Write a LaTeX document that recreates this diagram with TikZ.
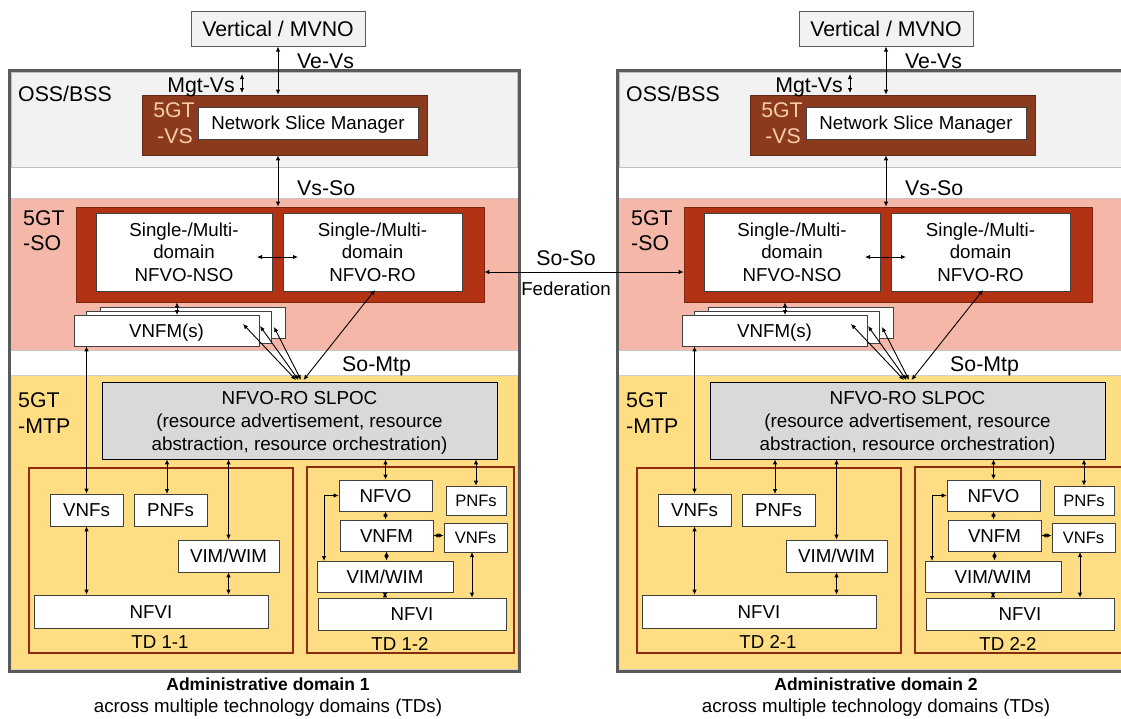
\documentclass[tikz,border=0pt]{standalone}
\usepackage{fontspec}
\setmainfont{Liberation Sans}
\usetikzlibrary{arrows.meta,calc}
\definecolor{ossfill}{HTML}{F2F2F2}
\definecolor{sofill}{HTML}{F5B7A7}
\definecolor{mtpfill}{HTML}{FFDD82}
\definecolor{vsbrown}{HTML}{8B3A1E}
\definecolor{sored}{HTML}{B23314}
\definecolor{vstext}{HTML}{F8CBAD}
\definecolor{tdred}{HTML}{8E2A10}
\definecolor{slpocfill}{HTML}{D9D9D9}
\definecolor{outergray}{HTML}{5A5A5A}
\newcommand\fsXL{\fontsize{21.3}{26}\selectfont}
\newcommand\fsL{\fontsize{18.7}{22.5}\selectfont}
\newcommand\fsSL{\fontsize{18.8}{23}\selectfont}
\newcommand\fsM{\fontsize{16.6}{20}\selectfont}
\newcommand\fsAdm{\fontsize{17.5}{21}\selectfont\bfseries}
\tikzset{
  sz/.style 2 args={minimum width=#1pt, minimum height=#2pt, inner sep=0pt},
  dbl/.style={<->, >={Latex[length=5pt,width=4.5pt]}, line width=0.9pt, black},
  mbox/.style={draw=black!75, fill=white, line width=0.8pt, inner sep=0pt, font=\fsL},
  wbox/.style={mbox, text height=13.4pt, text depth=0pt},
  wboxs/.style={mbox, font=\fsM, text height=11.9pt, text depth=0pt},
  lbl/.style={inner sep=0pt, font=\fsXL},
}
\newcommand\admdomain[2]{%
\begin{scope}[xshift=#2pt]
  % bands
  \node[draw=outergray, line width=3pt, fill=white, sz={510}{601}] (d#1-out) at (264,370.5) {};
  \node[draw=black!25, line width=0.8pt, fill=ossfill, sz={506}{95}] (d#1-oss) at (264,119.5) {};
  \node[draw=black!22, line width=0.6pt, fill=sofill, sz={506}{152}] (d#1-sob) at (264,274) {};
  \node[draw=black!18, line width=0.6pt, fill=mtpfill, sz={506}{294}] (d#1-mtp) at (264,522) {};
  \node[lbl, anchor=base west] (d#1-osslbl) at (18,101) {OSS/BSS};
  % vertical
  \node[draw=outergray, line width=1pt, fill=ossfill, sz={174}{35}, font=\fsXL, text height=15.2pt, text depth=0pt] (d#1-vert) at (278,28.5) {Vertical / MVNO};
  % VS
  \node[draw=vsbrown!70!black, line width=0.8pt, fill=vsbrown, sz={285}{60}] (d#1-vs) at (284.5,125) {};
  \node[lbl, text=vstext, anchor=base] (d#1-vs5) at (174,117) {5GT};
  \node[lbl, text=vstext, anchor=base] (d#1-vs6) at (175,143) {-VS};
  \node[wbox, sz={220}{32}] (d#1-nsm) at (308,123) {Network Slice Manager};
  \draw[dbl] (d#1-vert.south) -- (d#1-vert.south |- d#1-vs.north);
  \node[lbl, anchor=base west] (d#1-vevs) at (297,68) {Ve-Vs};
  \node[lbl, anchor=base east] (d#1-mgt) at (235,92) {Mgt-Vs};
  \coordinate (d#1-m1) at (242,74);
  \coordinate (d#1-m2) at (242,93);
  \draw[dbl] (d#1-m1) -- (d#1-m2);
  % SO
  \node[draw=sored!70!black, line width=0.6pt, fill=sored, sz={408}{95}] (d#1-so) at (280,254.5) {};
  \draw[dbl] (d#1-vs.south -| d#1-vert.south) -- (d#1-so.north -| d#1-vert.south);
  \node[lbl, anchor=base west] (d#1-vsso) at (297,195) {Vs-So};
  \node[lbl, anchor=base west] (d#1-so5) at (23,225) {5GT};
  \node[lbl, anchor=base west] (d#1-so6) at (23,250) {-SO};
  \node[mbox, align=center, sz={176}{78}] (d#1-nso) at (184,252) {Single-/Multi-\\domain\\NFVO-NSO};
  \node[mbox, align=center, sz={179}{78}] (d#1-ro) at (372.5,252) {Single-/Multi-\\domain\\NFVO-RO};
  \coordinate (d#1-h1) at (257,257);
  \coordinate (d#1-h2) at (298,257);
  \draw[dbl] (d#1-h1) -- (d#1-h2);
  % VNFM stack
  \node[wbox, sz={185}{31}] (d#1-vnfmc) at (192.5,322.5) {};
  \node[wbox, sz={185}{32}] (d#1-vnfmb) at (178.5,327) {};
  \node[wbox, sz={185}{31}] (d#1-vnfma) at (166.5,330.5) {VNFM(s)};
  \coordinate (d#1-c1) at (177,315);
  \draw[dbl] (d#1-c1 |- d#1-so.south) -- (d#1-c1);
  % MTP
  \node[draw=black, line width=0.8pt, fill=slpocfill, align=center, sz={395}{77}, font=\fsSL, text depth=0pt] (d#1-slpoc) at (299.5,420.5) {NFVO-RO SLPOC\\(resource advertisement, resource\\abstraction, resource orchestration)};
  \node[lbl, anchor=base west] (d#1-somtp) at (342,371) {So-Mtp};
  \node[lbl, anchor=base west] (d#1-mtp5) at (18,407) {5GT};
  \node[lbl, anchor=base west] (d#1-mtp6) at (18,433) {-MTP};
  \coordinate (d#1-s1) at (296,380);
  \coordinate (d#1-s2) at (298.5,380);
  \coordinate (d#1-s3) at (301,380);
  \coordinate (d#1-s4) at (303.5,380);
  \coordinate (d#1-t1) at (243,324);
  \coordinate (d#1-t2) at (260,326);
  \coordinate (d#1-t3) at (274,327);
  \coordinate (d#1-t4) at (375,290);
  \draw[dbl] (d#1-s1) -- (d#1-t1);
  \draw[dbl] (d#1-s2) -- (d#1-t2);
  \draw[dbl] (d#1-s3) -- (d#1-t3);
  \draw[dbl] (d#1-s4) -- (d#1-t4);
  % TD boxes
  \node[draw=tdred, line width=2.5pt, sz={264}{185}] (d#1-tda) at (161,560.5) {};
  \node[draw=tdred, line width=2.5pt, sz={207}{186}] (d#1-tdb) at (410.5,560) {};
  \node[anchor=base, font=\fsL, inner sep=0pt] (d#1-tdal) at (160,648) {TD #1-1};
  \node[anchor=base, font=\fsL, inner sep=0pt] (d#1-tdbl) at (400,650) {TD #1-2};
  % TD x-1
  \node[wbox, sz={73}{32}] (d#1-vnfs) at (86.5,510) {VNFs};
  \node[wbox, sz={73}{32}] (d#1-pnfs) at (170.5,510) {PNFs};
  \node[wbox, sz={101}{32}] (d#1-vim) at (228.5,556) {VIM/WIM};
  \node[wbox, sz={234}{33}] (d#1-nfvi) at (151,611.5) {NFVI};
  \draw[dbl] (d#1-vnfs.north |- d#1-vnfma.south) -- (d#1-vnfs.north);
  \coordinate (d#1-p1) at (167,494);
  \draw[dbl] (d#1-p1 |- d#1-slpoc.south) -- (d#1-p1);
  \draw[dbl] (d#1-slpoc.south -| d#1-vim.north) -- (d#1-vim.north);
  \draw[dbl] (d#1-vnfs.south) -- (d#1-vnfs.south |- d#1-nfvi.north);
  \draw[dbl] (d#1-vim.south) -- (d#1-vim.south |- d#1-nfvi.north);
  % TD x-2
  \node[wbox, sz={93}{31}] (d#1-nfvo) at (385.5,495.5) {NFVO};
  \node[wboxs, sz={60}{29}] (d#1-pnfsb) at (476,500.5) {PNFs};
  \node[wbox, sz={93}{31}] (d#1-vnfm) at (386.5,535.5) {VNFM};
  \node[wboxs, sz={63}{29}] (d#1-vnfsb) at (475.5,537.5) {VNFs};
  \node[wbox, sz={136}{31}] (d#1-vimb) at (385,576.5) {VIM/WIM};
  \node[wbox, sz={188}{32}] (d#1-nfvib) at (412,614) {NFVI};
  \draw[dbl] (d#1-slpoc.south -| d#1-nfvo.north) -- (d#1-nfvo.north);
  \draw[dbl] (d#1-slpoc.south -| d#1-pnfsb.north) -- (d#1-pnfsb.north);
  \draw[dbl] (d#1-nfvo.south) -- (d#1-nfvo.south |- d#1-vnfm.north);
  \draw[dbl] (d#1-vnfm.south) -- (d#1-vnfm.south |- d#1-vimb.north);
  \draw[dbl] (d#1-vimb.south) -- (d#1-vimb.south |- d#1-nfvib.north);
  \draw[dbl] (d#1-vnfm.east) -- (d#1-vnfm.east -| d#1-vnfsb.west);
  \coordinate (d#1-q1) at (472,552);
  \draw[dbl] (d#1-q1) -- (d#1-q1 |- d#1-nfvib.north);
  \coordinate (d#1-e1) at (324,561);
  \draw[dbl] (d#1-nfvo.west) -| (d#1-e1);
  % captions
  \node[anchor=base, font=\fsAdm, inner sep=0pt] (d#1-adm) at (268,690) {Administrative domain #1};
  \node[anchor=base, font=\fsL, inner sep=0pt] (d#1-acr) at (268,712.5) {across multiple technology domains (TDs)};
\end{scope}}
\begin{document}
\begin{tikzpicture}[x=1pt,y=-1pt]
\useasboundingbox (0,0) rectangle (1121,718);
\clip (0,0) rectangle (1121,718);
\fill[white] (0,0) rectangle (1121,718);
\admdomain{1}{0}
\admdomain{2}{608}
\draw[dbl] ($(d1-so.east)+(0,17.5)$) -- ($(d2-so.west)+(0,17.5)$);
\node[lbl, anchor=base] (sosolbl) at (566,265) {So-So};
\node[anchor=base, font=\fsL, inner sep=0pt] (fedlbl) at (566,295) {Federation};
\end{tikzpicture}
\end{document}
